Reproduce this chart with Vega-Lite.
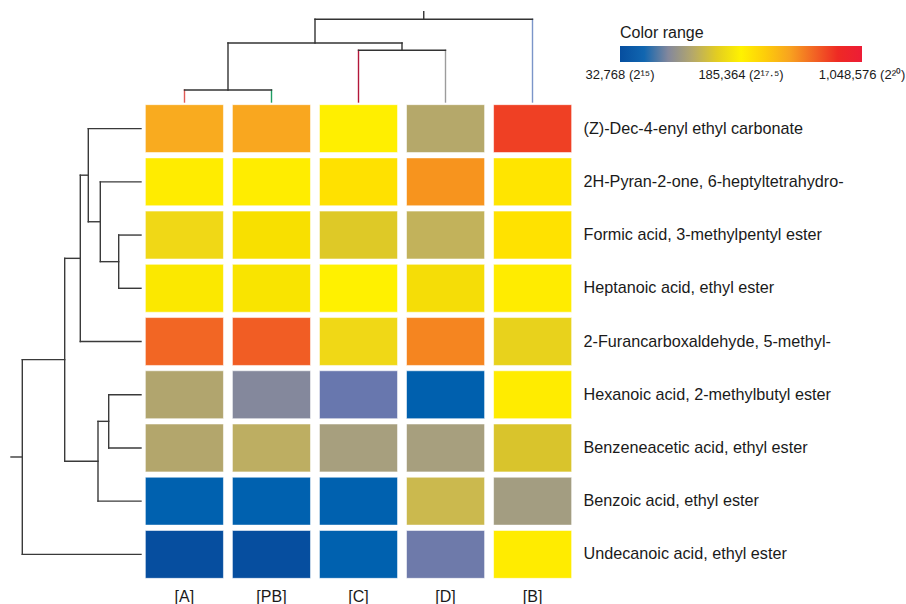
{
  "$schema": "https://vega.github.io/schema/vega-lite/v6.json",
  "padding": {"left": 10, "top": 10, "right": 0, "bottom": 0},
  "background": "white",
  "config": {
    "view": {"stroke": null},
    "font": "Liberation Sans, Arial, sans-serif"
  },
  "columns": 2,
  "spacing": 0,
  "align": "each",
  "bounds": "flush",
  "datasets": {
    "cells": [
      {"compound": "(Z)-Dec-4-enyl ethyl carbonate", "sample": "[A]", "log2_abundance": 18.4},
      {"compound": "(Z)-Dec-4-enyl ethyl carbonate", "sample": "[PB]", "log2_abundance": 18.45},
      {"compound": "(Z)-Dec-4-enyl ethyl carbonate", "sample": "[C]", "log2_abundance": 17.55},
      {"compound": "(Z)-Dec-4-enyl ethyl carbonate", "sample": "[D]", "log2_abundance": 16.5},
      {"compound": "(Z)-Dec-4-enyl ethyl carbonate", "sample": "[B]", "log2_abundance": 19.35},
      {"compound": "2H-Pyran-2-one, 6-heptyltetrahydro-", "sample": "[A]", "log2_abundance": 17.6},
      {"compound": "2H-Pyran-2-one, 6-heptyltetrahydro-", "sample": "[PB]", "log2_abundance": 17.58},
      {"compound": "2H-Pyran-2-one, 6-heptyltetrahydro-", "sample": "[C]", "log2_abundance": 17.8},
      {"compound": "2H-Pyran-2-one, 6-heptyltetrahydro-", "sample": "[D]", "log2_abundance": 18.7},
      {"compound": "2H-Pyran-2-one, 6-heptyltetrahydro-", "sample": "[B]", "log2_abundance": 17.73},
      {"compound": "Formic acid, 3-methylpentyl ester", "sample": "[A]", "log2_abundance": 17.2},
      {"compound": "Formic acid, 3-methylpentyl ester", "sample": "[PB]", "log2_abundance": 17.35},
      {"compound": "Formic acid, 3-methylpentyl ester", "sample": "[C]", "log2_abundance": 16.95},
      {"compound": "Formic acid, 3-methylpentyl ester", "sample": "[D]", "log2_abundance": 16.65},
      {"compound": "Formic acid, 3-methylpentyl ester", "sample": "[B]", "log2_abundance": 17.78},
      {"compound": "Heptanoic acid, ethyl ester", "sample": "[A]", "log2_abundance": 17.42},
      {"compound": "Heptanoic acid, ethyl ester", "sample": "[PB]", "log2_abundance": 17.38},
      {"compound": "Heptanoic acid, ethyl ester", "sample": "[C]", "log2_abundance": 17.52},
      {"compound": "Heptanoic acid, ethyl ester", "sample": "[D]", "log2_abundance": 17.3},
      {"compound": "Heptanoic acid, ethyl ester", "sample": "[B]", "log2_abundance": 17.6},
      {"compound": "2-Furancarboxaldehyde, 5-methyl-", "sample": "[A]", "log2_abundance": 19.0},
      {"compound": "2-Furancarboxaldehyde, 5-methyl-", "sample": "[PB]", "log2_abundance": 19.08},
      {"compound": "2-Furancarboxaldehyde, 5-methyl-", "sample": "[C]", "log2_abundance": 17.2},
      {"compound": "2-Furancarboxaldehyde, 5-methyl-", "sample": "[D]", "log2_abundance": 18.8},
      {"compound": "2-Furancarboxaldehyde, 5-methyl-", "sample": "[B]", "log2_abundance": 17.05},
      {"compound": "Hexanoic acid, 2-methylbutyl ester", "sample": "[A]", "log2_abundance": 16.45},
      {"compound": "Hexanoic acid, 2-methylbutyl ester", "sample": "[PB]", "log2_abundance": 16.0},
      {"compound": "Hexanoic acid, 2-methylbutyl ester", "sample": "[C]", "log2_abundance": 15.75},
      {"compound": "Hexanoic acid, 2-methylbutyl ester", "sample": "[D]", "log2_abundance": 15.3},
      {"compound": "Hexanoic acid, 2-methylbutyl ester", "sample": "[B]", "log2_abundance": 17.6},
      {"compound": "Benzeneacetic acid, ethyl ester", "sample": "[A]", "log2_abundance": 16.47},
      {"compound": "Benzeneacetic acid, ethyl ester", "sample": "[PB]", "log2_abundance": 16.6},
      {"compound": "Benzeneacetic acid, ethyl ester", "sample": "[C]", "log2_abundance": 16.3},
      {"compound": "Benzeneacetic acid, ethyl ester", "sample": "[D]", "log2_abundance": 16.3},
      {"compound": "Benzeneacetic acid, ethyl ester", "sample": "[B]", "log2_abundance": 16.9},
      {"compound": "Benzoic acid, ethyl ester", "sample": "[A]", "log2_abundance": 15.35},
      {"compound": "Benzoic acid, ethyl ester", "sample": "[PB]", "log2_abundance": 15.35},
      {"compound": "Benzoic acid, ethyl ester", "sample": "[C]", "log2_abundance": 15.35},
      {"compound": "Benzoic acid, ethyl ester", "sample": "[D]", "log2_abundance": 16.75},
      {"compound": "Benzoic acid, ethyl ester", "sample": "[B]", "log2_abundance": 16.27},
      {"compound": "Undecanoic acid, ethyl ester", "sample": "[A]", "log2_abundance": 15.0},
      {"compound": "Undecanoic acid, ethyl ester", "sample": "[PB]", "log2_abundance": 15.0},
      {"compound": "Undecanoic acid, ethyl ester", "sample": "[C]", "log2_abundance": 15.35},
      {"compound": "Undecanoic acid, ethyl ester", "sample": "[D]", "log2_abundance": 15.8},
      {"compound": "Undecanoic acid, ethyl ester", "sample": "[B]", "log2_abundance": 17.6}
    ],
    "sampleTree": [
      {"branch": "[A]", "pos1": 0, "pos2": 0, "dist1": 0, "dist2": 1.2},
      {"branch": "[PB]", "pos1": 1, "pos2": 1, "dist1": 0, "dist2": 1.2},
      {"branch": "[C]", "pos1": 2, "pos2": 2, "dist1": 0, "dist2": 5.17},
      {"branch": "[D]", "pos1": 3, "pos2": 3, "dist1": 0, "dist2": 5.17},
      {"branch": "[B]", "pos1": 4, "pos2": 4, "dist1": 0, "dist2": 8.27},
      {"branch": "node", "pos1": 0, "pos2": 1, "dist1": 1.2, "dist2": 1.2},
      {"branch": "node", "pos1": 2, "pos2": 3, "dist1": 5.17, "dist2": 5.17},
      {"branch": "node", "pos1": 0.5, "pos2": 0.5, "dist1": 1.2, "dist2": 5.9},
      {"branch": "node", "pos1": 2.5, "pos2": 2.5, "dist1": 5.17, "dist2": 5.9},
      {"branch": "node", "pos1": 0.5, "pos2": 2.5, "dist1": 5.9, "dist2": 5.9},
      {"branch": "node", "pos1": 1.5, "pos2": 1.5, "dist1": 5.9, "dist2": 8.27},
      {"branch": "node", "pos1": 1.5, "pos2": 4, "dist1": 8.27, "dist2": 8.27},
      {"branch": "node", "pos1": 2.75, "pos2": 2.75, "dist1": 8.27, "dist2": 9.03}
    ],
    "compoundTree": [
      {"pos1": 0, "pos2": 0, "dist1": 0, "dist2": 5.27},
      {"pos1": 1, "pos2": 1, "dist1": 0, "dist2": 4.07},
      {"pos1": 2, "pos2": 2, "dist1": 0, "dist2": 2.23},
      {"pos1": 3, "pos2": 3, "dist1": 0, "dist2": 2.23},
      {"pos1": 4, "pos2": 4, "dist1": 0, "dist2": 6.07},
      {"pos1": 5, "pos2": 5, "dist1": 0, "dist2": 3.23},
      {"pos1": 6, "pos2": 6, "dist1": 0, "dist2": 3.23},
      {"pos1": 7, "pos2": 7, "dist1": 0, "dist2": 4.3},
      {"pos1": 8, "pos2": 8, "dist1": 0, "dist2": 11.87},
      {"pos1": 2, "pos2": 3, "dist1": 2.23, "dist2": 2.23},
      {"pos1": 1, "pos2": 2.5, "dist1": 4.07, "dist2": 4.07},
      {"pos1": 0, "pos2": 1.75, "dist1": 5.27, "dist2": 5.27},
      {"pos1": 0.875, "pos2": 4, "dist1": 6.07, "dist2": 6.07},
      {"pos1": 5, "pos2": 6, "dist1": 3.23, "dist2": 3.23},
      {"pos1": 5.5, "pos2": 7, "dist1": 4.3, "dist2": 4.3},
      {"pos1": 2.4375, "pos2": 6.25, "dist1": 7.63, "dist2": 7.63},
      {"pos1": 4.34, "pos2": 8, "dist1": 11.87, "dist2": 11.87},
      {"pos1": 2.5, "pos2": 2.5, "dist1": 2.23, "dist2": 4.07},
      {"pos1": 1.75, "pos2": 1.75, "dist1": 4.07, "dist2": 5.27},
      {"pos1": 0.875, "pos2": 0.875, "dist1": 5.27, "dist2": 6.07},
      {"pos1": 2.4375, "pos2": 2.4375, "dist1": 6.07, "dist2": 7.63},
      {"pos1": 5.5, "pos2": 5.5, "dist1": 3.23, "dist2": 4.3},
      {"pos1": 6.25, "pos2": 6.25, "dist1": 4.3, "dist2": 7.63},
      {"pos1": 4.34, "pos2": 4.34, "dist1": 7.63, "dist2": 11.87},
      {"pos1": 6.17, "pos2": 6.17, "dist1": 11.87, "dist2": 13}
    ]
  },
  "concat": [
    {
      "width": 130,
      "height": 91,
      "data": {"values": [{}]},
      "mark": {"type": "point", "opacity": 0}
    },
    {
      "width": 435,
      "height": 91,
      "data": {"name": "sampleTree"},
      "mark": {"type": "rule", "strokeWidth": 1.4, "strokeCap": "square"},
      "encoding": {
        "x": {"field": "pos1", "type": "quantitative", "scale": {"domain": [-0.5, 4.5], "nice": false, "zero": false}, "axis": null},
        "x2": {"field": "pos2"},
        "y": {"field": "dist1", "type": "quantitative", "scale": {"domain": [0, 9.1], "nice": false}, "axis": null},
        "y2": {"field": "dist2"},
        "stroke": {
          "field": "branch", "type": "nominal",
          "scale": {"domain": ["[A]", "[PB]", "[C]", "[D]", "[B]", "node"], "range": ["#e05a55", "#1f9e63", "#b3173a", "#9c9c9c", "#7b95c9", "#333333"]},
          "legend": null
        }
      }
    },
    {
      "width": 130,
      "height": 479,
      "data": {"name": "compoundTree"},
      "mark": {"type": "rule", "strokeWidth": 1.4, "strokeCap": "square", "stroke": "#3a3a3a"},
      "encoding": {
        "x": {"field": "dist1", "type": "quantitative", "scale": {"domain": [13, 0], "nice": false, "zero": false}, "axis": null},
        "x2": {"field": "dist2"},
        "y": {"field": "pos1", "type": "quantitative", "scale": {"domain": [-0.5, 8.5], "nice": false, "zero": false, "reverse": true}, "axis": null},
        "y2": {"field": "pos2"}
      }
    },
    {
      "width": 435,
      "height": 479,
      "data": {"name": "cells"},
      "mark": {"type": "rect", "stroke": "white", "strokeOpacity": 0.55, "strokeWidth": 1},
      "encoding": {
        "x": {
          "field": "sample", "type": "nominal",
          "sort": ["[A]", "[PB]", "[C]", "[D]", "[B]"],
          "scale": {"paddingInner": 0.103, "paddingOuter": 0.05},
          "axis": {"orient": "bottom", "title": null, "ticks": false, "domain": false, "labelAngle": 0, "labelFontSize": 16, "labelPadding": 7, "labelColor": "#1a1a1a"}
        },
        "y": {
          "field": "compound", "type": "nominal",
          "sort": ["(Z)-Dec-4-enyl ethyl carbonate", "2H-Pyran-2-one, 6-heptyltetrahydro-", "Formic acid, 3-methylpentyl ester", "Heptanoic acid, ethyl ester", "2-Furancarboxaldehyde, 5-methyl-", "Hexanoic acid, 2-methylbutyl ester", "Benzeneacetic acid, ethyl ester", "Benzoic acid, ethyl ester", "Undecanoic acid, ethyl ester"],
          "scale": {"paddingInner": 0.1, "paddingOuter": 0.05},
          "axis": {"orient": "right", "title": null, "ticks": false, "domain": false, "labelFontSize": 16.2, "labelPadding": 7, "labelLimit": 400, "labelColor": "#1a1a1a"}
        },
        "color": {
          "field": "log2_abundance", "type": "quantitative",
          "scale": {
            "interpolate": "rgb",
            "domain": [15.0, 15.25, 15.45, 15.75, 16.0, 16.3, 16.45, 16.6, 16.75, 16.9, 17.05, 17.2, 17.35, 17.5, 17.8, 18.1, 18.4, 18.7, 19.0, 19.35, 19.6, 20.0],
            "range": ["#064e9f", "#005fad", "#0062b0", "#6877ae", "#84889c", "#a79f7e", "#b1a56e", "#bdae62", "#cbb94e", "#d9c42c", "#e8d21c", "#f0d816", "#f8e000", "#fff200", "#ffe100", "#fcc30f", "#f9ab1f", "#f7941e", "#f26624", "#ef4024", "#ed1c24", "#ed1c36"]
          },
          "legend": {
            "orient": "none", "legendX": 609, "legendY": 14,
            "direction": "horizontal",
            "title": "Color range", "titleFontSize": 16, "titleFontWeight": "normal", "titleColor": "#1a1a1a", "titlePadding": 5,
            "gradientLength": 242, "gradientThickness": 16, "gradientStrokeWidth": 0,
            "values": [15, 17.5, 20],
            "labelExpr": "datum.value === 15 ? '32,768 (2¹⁵)' : datum.value === 20 ? '1,048,576 (2²⁰)' : '185,364 (2¹⁷·⁵)'",
            "labelFontSize": 13, "labelColor": "#1a1a1a", "labelOffset": 7, "labelOverlap": false,
            "encode": {"labels": {"update": {"align": {"value": "center"}}}}
          }
        }
      }
    }
  ]
}
